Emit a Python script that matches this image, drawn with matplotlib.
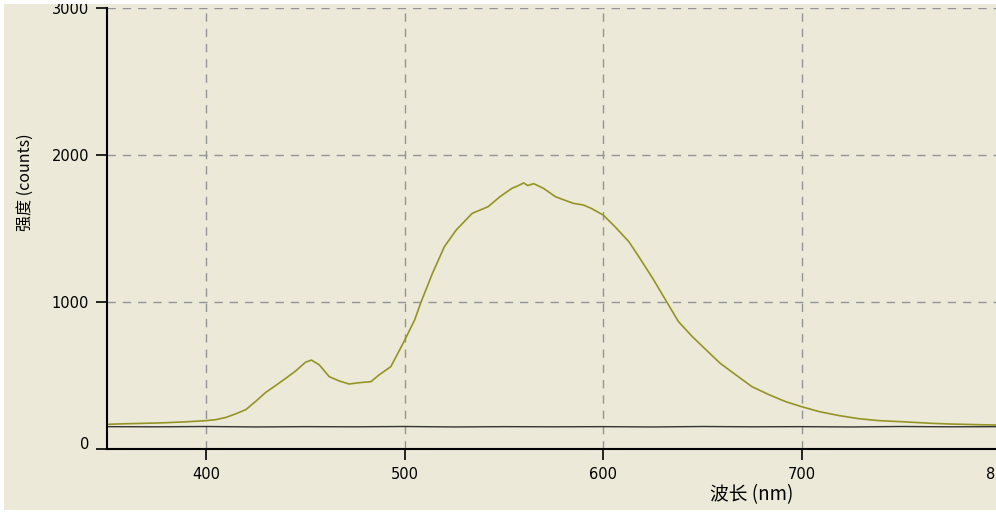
import matplotlib
matplotlib.use('Agg')
import matplotlib.pyplot as plt
from matplotlib.patches import Rectangle
from matplotlib.transforms import ScaledTranslation

# spectrum (wavelength nm, counts)
wavelength = [350, 360, 370, 380, 390, 400, 405, 410, 415, 420, 425, 430, 435,
              440, 445, 450, 453, 457, 462, 467, 472, 477, 483, 487, 493, 497,
              500, 505, 508, 512, 514, 520, 526, 534, 542, 548, 554, 557, 560,
              562, 565, 570, 576, 585, 590, 594, 600, 606, 613, 618, 625, 632,
              638, 645, 652, 659, 667, 675, 684, 692, 700, 709, 719, 729, 739,
              750, 765, 775, 790, 800]
signal = [168, 172, 175, 179, 185, 193, 200, 215, 240, 268, 325, 385, 432,
          480, 530, 590, 605, 572, 492, 463, 442, 451, 458, 503, 560, 662,
          740, 877, 991, 1127, 1195, 1376, 1490, 1603, 1648, 1716, 1773, 1790, 1810,
          1792, 1805, 1773, 1716, 1671, 1660, 1637, 1592, 1512, 1410, 1308, 1161, 1002,
          866, 764, 673, 583, 503, 424, 367, 322, 288, 254, 227, 206, 193,
          186, 175, 170, 165, 163]

dark_wl = [350, 375, 400, 425, 450, 475, 500, 525, 550, 575, 600, 625, 650,
           675, 700, 725, 750, 775, 800]
dark = [152, 151, 153, 150, 152, 151, 153, 150, 152, 151, 152, 150, 153,
        151, 152, 150, 153, 151, 152]

bg = '#ECE9D8'
W, H = 996, 512
fig = plt.figure(figsize=(W / 100, H / 100), dpi=100, facecolor=bg)
ax = fig.add_axes([107 / W, 63 / H, 893 / W, 441 / H], facecolor=bg)

ax.plot(dark_wl, dark, color='#333333', lw=1.0)
ax.plot(wavelength, signal, color='#949426', lw=1.2)

ax.set_xlim(350, 800)
ax.set_ylim(0, 3000)
ax.set_xticks([400, 500, 600, 700, 800])
ax.set_yticks([0, 1000, 2000, 3000])
ax.grid(True, color='#949494', ls=(0, (6, 5)), lw=1.0)
ax.set_axisbelow(True)

for s in ['top', 'right']:
    ax.spines[s].set_visible(False)
for s in ['left', 'bottom']:
    ax.spines[s].set_linewidth(1.5)
    ax.spines[s].set_color('black')
ax.tick_params(direction='out', length=8, width=1.2, labelsize=10.5, pad=5)

# the "0" label sits a little above its tick in the original
ylab0 = ax.get_yticklabels()[0]
ylab0.set_transform(ylab0.get_transform() + ScaledTranslation(0, 6 / 100, fig.dpi_scale_trans))

fam = ['Noto Sans CJK SC', 'DejaVu Sans']
fig.text(25 / W, 1 - 182 / H, '强度 (counts)', rotation=90, ha='center', va='center',
         fontsize=11.5, family=fam)
fig.text(752 / W, 1 - 495 / H, '波长 (nm)', ha='center', va='center',
         fontsize=13.5, family=fam)

# white screenshot margins (left, top, bottom)
for x0, y0, w, h in [(0, 0, 4, H), (0, H - 4, W, 4), (0, 0, W, 2)]:
    fig.patches.append(Rectangle((x0 / W, y0 / H), w / W, h / H, transform=fig.transFigure,
                                 facecolor='white', edgecolor='none', zorder=10))

fig.savefig('out.png', dpi=100, facecolor=bg)
